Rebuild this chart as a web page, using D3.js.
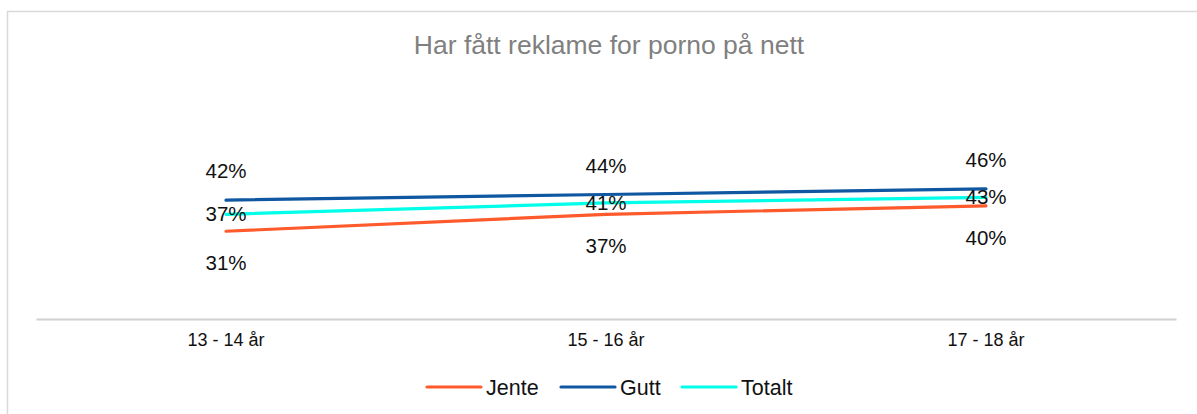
<!DOCTYPE html>
<html>
<head>
<meta charset="utf-8">
<script src="https://cdn.jsdelivr.net/npm/d3@7"></script>
<style>
  html, body { margin: 0; padding: 0; background: #fff; }
  svg { display: block; font-family: "Liberation Sans", Arial, sans-serif; }
</style>
</head>
<body>
<svg id="chart" width="1197" height="414"></svg>
<script>
const title = "Har fått reklame for porno på nett";
const categories = ["13 - 14 år", "15 - 16 år", "17 - 18 år"];
const seriesNames = ["Jente", "Gutt", "Totalt"];
const jente = [31, 37, 40];
const gutt = [42, 44, 46];
const totalt = [37, 41, 43];
const colors = ["#FF5A2B", "#0F57A1", "#00FFE8"];
const labelPos = ["below", "above", "center"];

const series = [
  { name: seriesNames[0], values: jente, color: colors[0], pos: labelPos[0] },
  { name: seriesNames[1], values: gutt, color: colors[1], pos: labelPos[1] },
  { name: seriesNames[2], values: totalt, color: colors[2], pos: labelPos[2] }
];

const svg = d3.select("#chart");

// chart border
svg.append("rect")
  .attr("x", 7.5).attr("y", 11.5)
  .attr("width", 1205).attr("height", 420)
  .attr("fill", "#fff").attr("stroke", "#d9d9d9").attr("stroke-width", 1.5);

svg.append("text")
  .attr("x", 609).attr("y", 54)
  .attr("text-anchor", "middle")
  .attr("font-size", 26.5)
  .attr("fill", "#808080")
  .text(title);

const x = d3.scaleBand().domain(categories).range([36, 1176]);
const y = d3.scaleLinear().domain([0, 100]).range([319, 36]);

// x axis
const xAxis = d3.axisBottom(x).tickSize(0).tickPadding(14);
const gx = svg.append("g").attr("transform", "translate(0,319)").call(xAxis);
gx.select(".domain").attr("stroke", "#d0d0d0").attr("stroke-width", 2);
gx.selectAll("text").attr("font-size", 18).attr("fill", "#111")
  .attr("font-family", "Liberation Sans, Arial, sans-serif");

const cx = d => x(d) + x.bandwidth() / 2;
const line = d3.line().x((d, i) => cx(categories[i])).y(d => y(d));

series.forEach(s => {
  svg.append("path")
    .datum(s.values)
    .attr("d", line)
    .attr("fill", "none")
    .attr("stroke", s.color)
    .attr("stroke-width", 3.2)
    .attr("stroke-linecap", "round");
});

// data labels
series.forEach(s => {
  svg.selectAll(null)
    .data(s.values)
    .enter()
    .append("text")
    .attr("x", (d, i) => cx(categories[i]))
    .attr("y", d => {
      const yy = y(d);
      if (s.pos === "above") return yy - 29;
      if (s.pos === "below") return yy + 32;
      return yy;
    })
    .attr("dy", "0.35em")
    .attr("text-anchor", "middle")
    .attr("font-size", 20.5)
    .attr("fill", "#111")
    .text(d => d + "%");
});

// legend
const legendX = [427, 561, 682];
series.forEach((s, i) => {
  const g = svg.append("g").attr("transform", `translate(${legendX[i]},387)`);
  g.append("line").attr("x1", 0).attr("x2", 54).attr("y1", 0).attr("y2", 0)
    .attr("stroke", s.color).attr("stroke-width", 3.2).attr("stroke-linecap", "round");
  g.append("text").attr("x", 59).attr("y", 0).attr("dy", "0.35em")
    .attr("font-size", 21.5).attr("fill", "#111").text(s.name);
});
</script>
</body>
</html>
